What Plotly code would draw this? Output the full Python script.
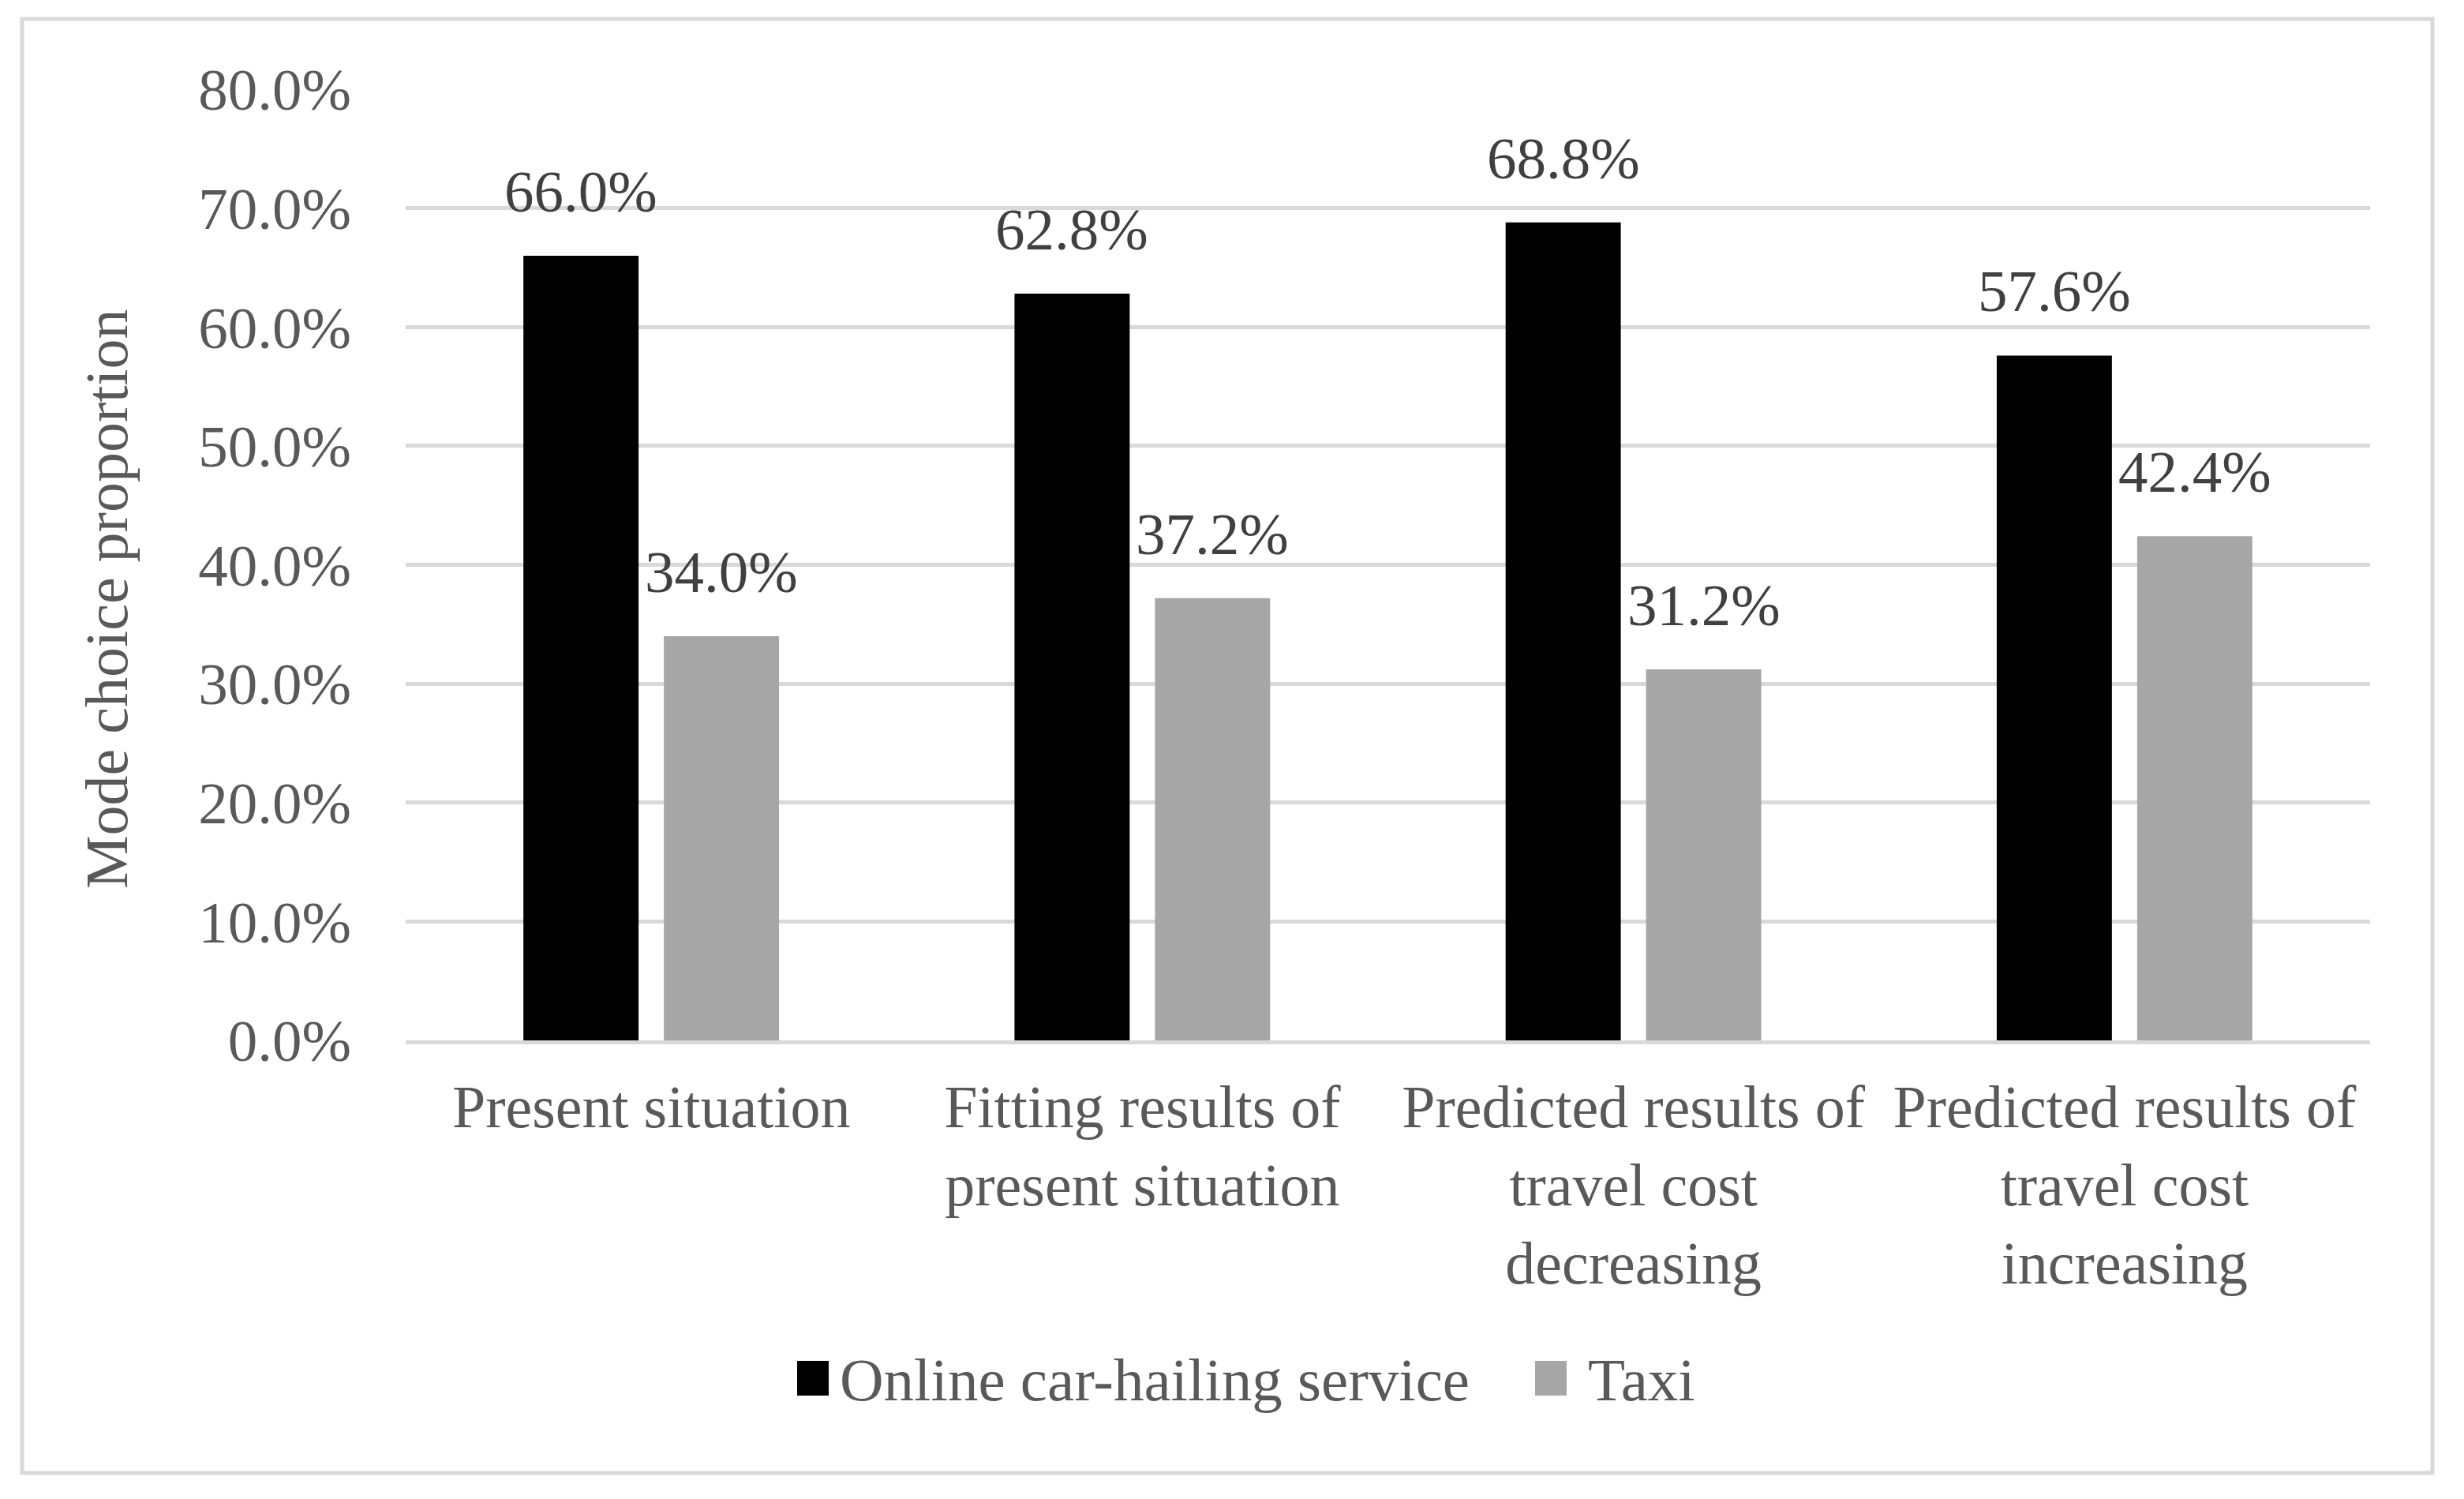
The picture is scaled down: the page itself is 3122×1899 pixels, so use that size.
import plotly.graph_objects as go

categories = [
    "Present situation",
    "Fitting results of<br>present situation",
    "Predicted results of<br>travel cost<br>decreasing",
    "Predicted results of<br>travel cost<br>increasing",
]
series_names = ["Online car-hailing service", "Taxi"]
online_values = [0.660, 0.628, 0.688, 0.576]
taxi_values = [0.340, 0.372, 0.312, 0.424]
y_ticks = [0.0, 0.1, 0.2, 0.3, 0.4, 0.5, 0.6, 0.7, 0.8]
y_title = "Mode choice proportion"

W, H = 3122, 1899
OFF = 8  # page body margin
L, R, T, B = 514, 3003, 113, 1318  # plot area in page pixels
FONT = "Liberation Serif, Times New Roman, serif"
AX_COLOR = "#595959"
LBL_COLOR = "#404040"
GRID = "#d9d9d9"
colors = ["#000000", "#a6a6a6"]
BARGAP, GROUPGAP = 0.428, 0.18


def px_x(px):
    return (px - L) / (R - L)


def px_y(py):
    return (B - py) / (B - T)


fig = go.Figure()
for name, vals, col in zip(series_names, [online_values, taxi_values], colors):
    fig.add_trace(go.Bar(
        x=categories, y=vals, name=name, marker=dict(color=col, line=dict(width=0)),
        showlegend=False, hoverinfo="x+y",
    ))

# data labels centred above each bar
cat_px = (R - L) / len(categories)
half_slot = (1 - BARGAP) * cat_px / 4
annotations = []
for vals, sgn in zip([online_values, taxi_values], [-1, 1]):
    for c, v in zip(categories, vals):
        annotations.append(dict(
            x=c, y=v, xref="x", yref="y", text=f"{v*100:.1f}%", showarrow=False,
            xanchor="center", yanchor="bottom", xshift=sgn * half_slot, yshift=38,
            font=dict(family=FONT, size=75, color=LBL_COLOR),
        ))

# y-axis title
annotations.append(dict(xref="paper", yref="paper", x=px_x(135), y=px_y(759),
                        text=y_title, textangle=-90, showarrow=False,
                        xanchor="center", yanchor="middle",
                        font=dict(family=FONT, size=76, color=AX_COLOR)))

fig.update_layout(
    width=W, height=H,
    margin=dict(l=L - OFF, r=W - R + OFF, t=T - OFF, b=H - B + OFF),
    paper_bgcolor="white", plot_bgcolor="white",
    barmode="group", bargap=BARGAP, bargroupgap=GROUPGAP,
    font=dict(family=FONT, size=75, color=AX_COLOR),
)
fig.update_yaxes(
    range=[0, 0.8], tickvals=y_ticks, tickformat=".1%",
    showgrid=True, gridcolor=GRID, gridwidth=5,
    zeroline=False, showline=False, ticks="",
    ticklabelstandoff=68,
    tickfont=dict(family=FONT, size=75, color=AX_COLOR),
)
fig.update_xaxes(
    showline=True, linecolor=GRID, linewidth=5, ticks="",
    showgrid=False, zeroline=False,
    ticklabelstandoff=14,
    tickfont=dict(family=FONT, size=76, color=AX_COLOR),
)

shapes = [
    dict(type="rect", xref="paper", yref="paper",
         x0=px_x(28), x1=px_x(3082), y0=px_y(1866), y1=px_y(24),
         line=dict(color=GRID, width=5), fillcolor="rgba(0,0,0,0)", layer="below"),
]
legend_items = [(1010, 1062), (1945, 2010)]
for (sx, tx), name, col in zip(legend_items, series_names, colors):
    shapes.append(dict(type="rect", xref="paper", yref="paper",
                       x0=px_x(sx), x1=px_x(sx + 40), y0=px_y(1768), y1=px_y(1724),
                       fillcolor=col, line=dict(width=0)))
    annotations.append(dict(xref="paper", yref="paper", x=px_x(tx), y=px_y(1748),
                            text=name, showarrow=False, xanchor="left", yanchor="middle",
                            font=dict(family=FONT, size=77, color=AX_COLOR)))
fig.update_layout(shapes=shapes, annotations=annotations)

fig.write_html("out.html")
